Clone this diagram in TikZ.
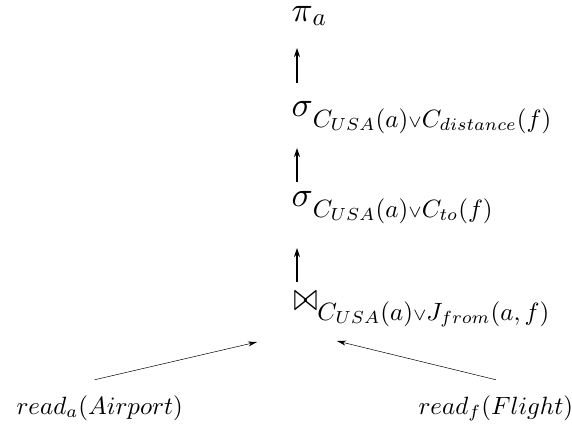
\documentclass[tikz,border=0pt]{standalone}
\usetikzlibrary{arrows.meta}
\usepackage{graphicx}
\newcommand{\myor}{{\scriptstyle\vee}}
\newcommand{\bigop}[1]{\mathord{\scalebox{1.4}{$#1$}}}
\newcommand{\bigjoin}{\mathord{\scalebox{1.15}[1.6]{$\bowtie$}}}
\begin{document}
\begin{tikzpicture}[x=1pt,y=-1pt,
  lbl/.style={anchor=base west,inner sep=0pt,scale=2.5},
  uparr/.style={line width=1.4pt,-{Stealth[length=9pt,width=6pt]}},
  thinarr/.style={line width=0.5pt,-{Stealth[length=9pt,width=5pt]}}]
\useasboundingbox (0,0) rectangle (572,427);
\node[lbl] (pi) at (291,22) {$\bigop{\pi}_{\textstyle a}$};
\node[lbl] (s1) at (291,117) {$\bigop{\sigma}_{\textstyle C_{USA}(a)\myor C_{distance}(f)}$};
\node[lbl] (s2) at (291,207) {$\bigop{\sigma}_{\textstyle C_{USA}(a)\myor C_{to}(f)}$};
\node[lbl] (j) at (293,310) {$\bigjoin_{\textstyle C_{USA}(a)\myor J_{from}(a,f)}$};
\node[lbl] (ra) at (16,414) {$read_a(Airport)$};
\node[lbl] (rf) at (418,414) {$read_f(Flight)$};
\coordinate (jl) at (257,342);
\coordinate (jr) at (337,341);
\coordinate (a1t) at (297,83); \coordinate (a1h) at (297,48);
\coordinate (a2t) at (297,182); \coordinate (a2h) at (297,148);
\coordinate (a3t) at (297,282); \coordinate (a3h) at (297,248);
\draw[uparr] (a1t) -- (a1h);
\draw[uparr] (a2t) -- (a2h);
\draw[uparr] (a3t) -- (a3h);
\draw[thinarr] ([xshift=-5pt,yshift=15pt]ra.north) -- (jl);
\draw[thinarr] ([yshift=15pt]rf.north) -- (jr);
\end{tikzpicture}
\end{document}
